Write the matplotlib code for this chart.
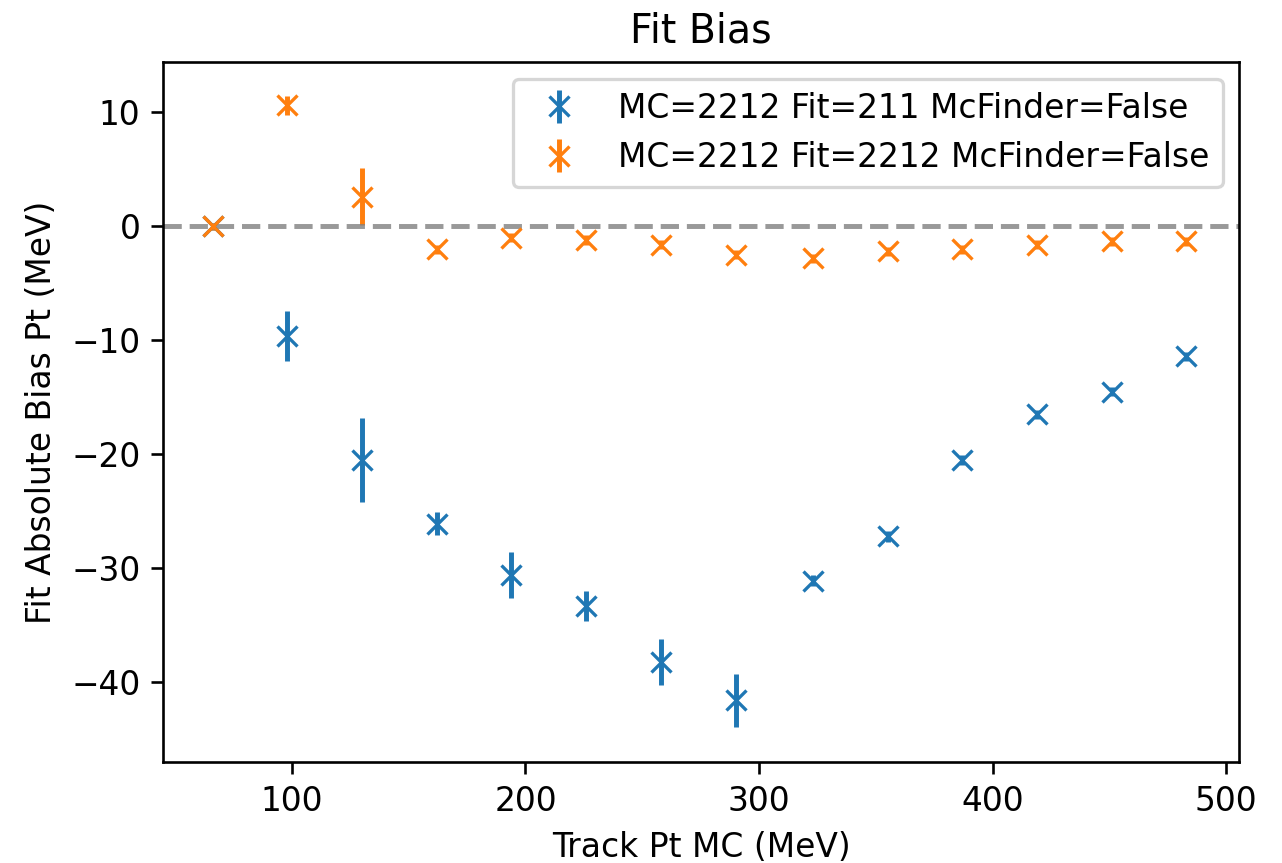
import numpy as np
import matplotlib.pyplot as plt

# Track Pt MC (MeV)
pt_mc = [66, 98, 130, 162, 194, 226, 258, 290, 323, 355, 387, 419, 451, 483]

# MC=2212 Fit=211
bias_211 = [0.0, -9.6, -20.5, -26.1, -30.6, -33.3, -38.2, -41.6, -31.1, -27.2, -20.5, -16.5, -14.5, -11.4]
err_211 = [0.3, 2.2, 3.7, 1.0, 2.0, 1.3, 2.0, 2.3, 0.5, 0.5, 0.4, 0.4, 0.4, 0.4]

# MC=2212 Fit=2212
bias_2212 = [0.0, 10.6, 2.6, -2.0, -1.0, -1.2, -1.6, -2.5, -2.8, -2.2, -2.0, -1.6, -1.3, -1.3]
err_2212 = [0.3, 0.8, 2.5, 0.4, 0.4, 0.4, 0.4, 0.4, 0.4, 0.4, 0.4, 0.4, 0.4, 0.4]

dpi = 237
fig = plt.figure(figsize=(1282/dpi, 863/dpi), dpi=dpi)
ax = fig.add_axes([0.1275, 0.117, 0.839, 0.811])

ax.errorbar(pt_mc, bias_211, yerr=err_211, fmt='x', label='MC=2212 Fit=211 McFinder=False')
ax.errorbar(pt_mc, bias_2212, yerr=err_2212, fmt='x', label='MC=2212 Fit=2212 McFinder=False')
ax.axhline(0, color='grey', ls='--', alpha=0.8)

ax.set_xlim(45, 505.5)
ax.set_ylim(-47.0, 14.4)
ax.set_title('Fit Bias')
ax.set_xlabel('Track Pt MC (MeV)')
ax.set_ylabel('Fit Absolute Bias Pt (MeV)')
ax.legend(loc='upper right')

fig.savefig('out.png', dpi=dpi)
